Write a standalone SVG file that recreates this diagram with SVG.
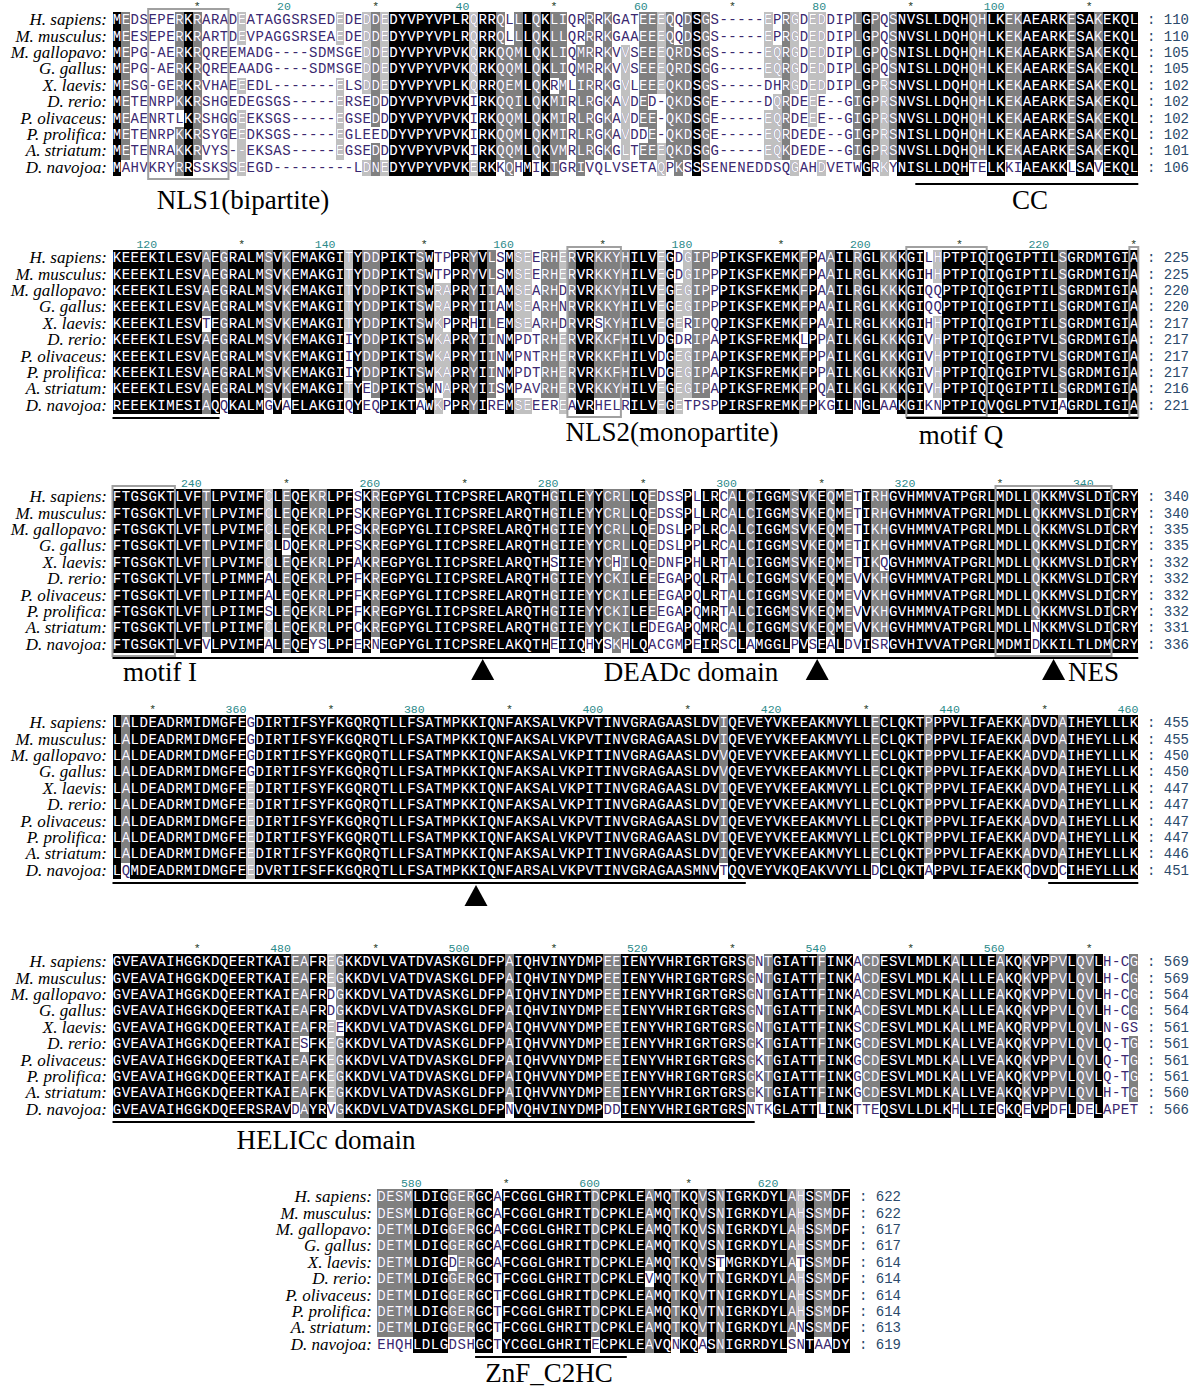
<svg xmlns="http://www.w3.org/2000/svg" xmlns:xlink="http://www.w3.org/1999/xlink" width="1196" height="1391" viewBox="0 0 1196 1391">
<style>
.sq{font-family:"Liberation Mono","Courier New",monospace;font-size:14px;letter-spacing:0.52px}
.nm{font-family:"Liberation Serif","Times New Roman",serif;font-style:italic;font-size:17px;text-anchor:end;fill:#000}
.rn{font-family:"Liberation Mono",monospace;font-size:11.5px;fill:#2b8a8a;text-anchor:end}
.st{font-family:"Liberation Mono",monospace;font-size:11.5px;fill:#243a24;text-anchor:middle}
.cnt{font-family:"Liberation Mono",monospace;font-size:14px;fill:#2b4a6b}
.lb{font-family:"Liberation Serif","Times New Roman",serif;font-size:27px;fill:#000}
.k{fill:#000}.dg{fill:#808080}.lg{fill:#c0c0c0}
.box{fill:none;stroke:#a0a0a0;stroke-width:2}
.ul{stroke:#000;stroke-width:2}
</style>
<defs>
<clipPath id="c1"><use href="#k1" transform="translate(112.5,0) scale(8.92,16.4)"/><use href="#d1" transform="translate(112.5,0) scale(8.92,16.4)"/><use href="#l1" transform="translate(112.5,0) scale(8.92,16.4)"/></clipPath>
<clipPath id="c2"><use href="#k2" transform="translate(112.5,0) scale(8.92,16.4)"/><use href="#d2" transform="translate(112.5,0) scale(8.92,16.4)"/><use href="#l2" transform="translate(112.5,0) scale(8.92,16.4)"/></clipPath>
<clipPath id="c3"><use href="#k3" transform="translate(112.5,0) scale(8.92,16.4)"/><use href="#d3" transform="translate(112.5,0) scale(8.92,16.4)"/><use href="#l3" transform="translate(112.5,0) scale(8.92,16.4)"/></clipPath>
<clipPath id="c4"><use href="#k4" transform="translate(112.5,0) scale(8.92,16.4)"/><use href="#d4" transform="translate(112.5,0) scale(8.92,16.4)"/><use href="#l4" transform="translate(112.5,0) scale(8.92,16.4)"/></clipPath>
<clipPath id="c5"><use href="#k5" transform="translate(112.5,0) scale(8.92,16.4)"/><use href="#d5" transform="translate(112.5,0) scale(8.92,16.4)"/><use href="#l5" transform="translate(112.5,0) scale(8.92,16.4)"/></clipPath>
<clipPath id="c6"><use href="#k6" transform="translate(377,0) scale(8.92,16.4)"/><use href="#d6" transform="translate(377,0) scale(8.92,16.4)"/><use href="#l6" transform="translate(377,0) scale(8.92,16.4)"/></clipPath>
</defs>
<rect width="1196" height="1391" fill="#fff"/>

<g id="block1" transform="translate(0,12)">
<g transform="translate(112.5,0) scale(8.92,16.4)" shape-rendering="crispEdges">
<path id="k1" class="k" d="M0 0h1v10h-1zM8 0h1v10h-1zM31 0h9v10h-9zM41 0h2v10h-2zM46 0h1v10h-1zM48 0h1v10h-1zM65 0h1v10h-1zM84 0h1v10h-1zM88 0h8v10h-8zM98 0h2v10h-2zM102 0h5v10h-5zM108 0h2v10h-2zM111 0h4v10h-4z"/>
<path id="d1" class="dg" d="M1 0h1v9h-1zM7 0h1v6h-1zM7 7h1v3h-1zM9 0h1v9h-1zM29 0h1v7h-1zM29 8h1v2h-1zM43 0h1v9h-1zM44 2h1v8h-1zM45 0h1v9h-1zM47 0h1v9h-1zM49 0h1v4h-1zM49 5h1v5h-1zM50 0h1v9h-1zM52 2h1v8h-1zM53 0h1v9h-1zM55 0h1v9h-1zM59 0h1v7h-1zM59 8h1v1h-1zM60 0h1v5h-1zM60 6h1v3h-1zM62 0h1v9h-1zM63 2h1v8h-1zM64 0h1v9h-1zM66 0h1v9h-1zM75 0h1v9h-1zM83 0h1v9h-1zM85 0h1v9h-1zM87 0h1v9h-1zM96 0h2v9h-2zM100 0h2v9h-2zM107 0h1v9h-1zM110 0h1v9h-1z"/>
<path id="l1" class="lg" d="M14 0h1v2h-1zM14 4h1v1h-1zM14 6h1v4h-1zM25 0h1v2h-1zM25 4h1v5h-1zM28 0h1v5h-1zM28 9h1v1h-1zM30 0h1v5h-1zM30 9h1v1h-1zM40 0h1v5h-1zM40 9h1v1h-1zM57 2h1v7h-1zM61 0h1v5h-1zM61 8h1v2h-1zM73 0h1v4h-1zM73 6h1v3h-1zM74 2h1v2h-1zM74 5h1v4h-1zM76 0h1v5h-1zM76 9h1v1h-1zM78 0h1v7h-1zM79 0h1v5h-1zM79 9h1v1h-1zM86 4h1v6h-1z"/>
</g>
<g fill="#3a2870"><g id="t1" class="sq">
<text x="112.76" y="12.2">MEDSEPERKRARADEATAGGSRSEDEDEDDEDYVPYVPLRQRRQLLLQKLIQRRRKGATEEEQQDSGS-----EPRGDEDDIPLGPQSNVSLLDQHQHLKEKAEARKESAKEKQL</text>
<text x="112.76" y="28.6">MEESEPERKRARTDEVPAGGSRSEAEDEDDEDYVPYVPLRQRRQLLLQKLLQRRRKGAAEEEQQDSGS-----EPRGDEDDIPLGPQSNVSLLDQHQHLKEKAEARKESAKEKQL</text>
<text x="112.76" y="45">MEPG-AERKRQREEMADG----SDMSGEDDEDYVPYVPVKQRKQQMLQKLIQMRRKVVSEEEQRDSGS-----EQRGDEDDIPLGPQSNISLLDQHQHLKEKAEARKESAKEKQL</text>
<text x="112.76" y="61.4">MEPG-AERKRQREEAADG----SDMSGEDDEDYVPYVPVKQRKQQMLQKLIQMRRKVVSEEEQRDSGG-----EQRGDEDDIPLGPQSNISLLDQHQHLKEKAEARKESAKEKQL</text>
<text x="112.76" y="77.8">MESG-GERKRVHAEEEDL-------ELSDDEDYVPYVPLKQRRQEMLQKRMLIRRKGVLEEEQKDSGS-----DHRGDEDDIPLGPRSNVSLLDQHQHLKEKAEARKESAKEKQL</text>
<text x="112.76" y="94.2">METENRPKKRSHGEDEGSGS-----ERSEDDDYVPYVPVKIRKQQILQKMIRLRGKAVDED-QKDSGE-----DQRDEEE--GIGPRSNVSLLDQHQHLKEKAEARKESAKEKQL</text>
<text x="112.76" y="110.6">MEAENRTLKRSHGGEEKSGS-----EGSEDDDYVPYVPVKIRKQQMLQKMIRLRGKAVDEE-QKDSGE-----EQRDEEE--GIGPRSNVSLLDQHQHLKEKAEARKESAKEKQL</text>
<text x="112.76" y="127">METENRPKKRSYGEEDKSGS-----EGLEEDDYVPYVPVKIRKQQMLQKMIRLRGKAVDDE-QKDSGE-----EQRDEDE--GIGPRSNISLLDQHQHLKEKAEARKESAKEKQL</text>
<text x="112.76" y="143.4">METENRAKKRVYS--EKSAS-----EGSEDDDYVPYVPVKIRKQQMLQKVMRLRGKGLTEEEQKDSGG-----EQKDEDE--GIGPRSNVSLLDQHQHLKEKAEARKESAKEKQL</text>
<text x="112.76" y="159.8">MAHVKRYRRSSKSSEEGD---------LDNEDYVPYVPVKERKKQHMIKIGRIVQLVSETAQPKSSSENENEDDSQGAHDVETWGRKYNISLLDQHTELKKIAEAKKLSAVEKQL</text>
</g></g>
<use href="#t1" fill="#fff" clip-path="url(#c1)"/>
<g class="nm">
<text x="107" y="13.2">H. sapiens:</text><text x="107" y="29.6">M. musculus:</text><text x="107" y="46">M. gallopavo:</text><text x="107" y="62.4">G. gallus:</text><text x="107" y="78.8">X. laevis:</text><text x="107" y="95.2">D. rerio:</text><text x="107" y="111.6">P. olivaceus:</text><text x="107" y="128">P. prolifica:</text><text x="107" y="144.4">A. striatum:</text><text x="107" y="160.8">D. navojoa:</text>
</g>
<g class="cnt">
<text x="1147" y="12.2">: 110</text><text x="1147" y="28.6">: 110</text><text x="1147" y="45">: 105</text><text x="1147" y="61.4">: 105</text><text x="1147" y="77.8">: 102</text><text x="1147" y="94.2">: 102</text><text x="1147" y="110.6">: 102</text><text x="1147" y="127">: 102</text><text x="1147" y="143.4">: 101</text><text x="1147" y="159.8">: 106</text>
</g>
<g>
<text class="st" x="197.2" y="-2">*</text><text class="rn" x="290.9" y="-2">20</text><text class="st" x="375.6" y="-2">*</text><text class="rn" x="469.3" y="-2">40</text><text class="st" x="554" y="-2">*</text><text class="rn" x="647.7" y="-2">60</text><text class="st" x="732.4" y="-2">*</text><text class="rn" x="826.1" y="-2">80</text><text class="st" x="910.8" y="-2">*</text><text class="rn" x="1004.5" y="-2">100</text><text class="st" x="1089.2" y="-2">*</text>
</g>
</g>

<g id="block2" transform="translate(0,250)">
<g transform="translate(112.5,0) scale(8.92,16.4)" shape-rendering="crispEdges">
<path id="k2" class="k" d="M0 0h10v10h-10zM11 0h1v10h-1zM13 0h4v10h-4zM18 0h1v10h-1zM20 0h6v10h-6zM27 0h1v10h-1zM30 0h4v10h-4zM35 0h1v10h-1zM38 0h2v10h-2zM41 0h1v10h-1zM44 0h1v10h-1zM52 0h2v10h-2zM58 0h3v10h-3zM62 0h1v10h-1zM68 0h9v10h-9zM78 0h1v10h-1zM81 0h2v10h-2zM84 0h2v10h-2zM88 0h3v10h-3zM93 0h13v10h-13zM107 0h8v10h-8z"/>
<path id="d2" class="dg" d="M10 0h1v4h-1zM10 5h1v5h-1zM12 0h1v9h-1zM17 0h1v9h-1zM19 0h1v9h-1zM28 0h1v8h-1zM29 0h1v9h-1zM34 0h1v9h-1zM40 0h1v4h-1zM40 5h1v5h-1zM42 0h1v9h-1zM48 0h2v9h-2zM51 0h1v9h-1zM54 0h1v4h-1zM54 5h1v4h-1zM55 0h3v9h-3zM65 0h2v9h-2zM77 0h1v5h-1zM77 6h1v4h-1zM80 0h1v9h-1zM83 0h1v9h-1zM86 0h2v9h-2zM106 0h1v9h-1z"/>
<path id="l2" class="lg" d="M26 0h1v5h-1zM26 8h1v1h-1zM36 2h1v6h-1zM36 9h1v1h-1zM37 2h1v2h-1zM37 5h1v4h-1zM45 0h2v5h-2zM45 9h2v1h-2zM50 0h1v2h-1zM50 5h1v5h-1zM61 0h1v5h-1zM61 8h1v2h-1zM63 2h1v3h-1zM63 6h1v4h-1zM64 0h1v4h-1zM64 6h1v3h-1zM92 0h1v2h-1zM92 4h1v5h-1z"/>
</g>
<g fill="#3a2870"><g id="t2" class="sq">
<text x="112.76" y="12.2">KEEEKILESVAEGRALMSVKEMAKGITYDDPIKTSWTPPRYVLSMSEERHERVRKKYHILVEGDGIPPPIKSFKEMKFPAAILRGLKKKGILHPTPIQIQGIPTILSGRDMIGIA</text>
<text x="112.76" y="28.6">KEEEKILESVAEGRALMSVKEMAKGITYDDPIKTSWTPPRYVLSMSEERHERVRKKYHILVEGDGIPPPIKSFKEMKFPAAILRGLKKKGIHHPTPIQIQGIPTILSGRDMIGIA</text>
<text x="112.76" y="45">KEEEKILESVAEGRALMSVKEMAKGITYDDPIKTSWRAPRYIIAMSEARHDRVRKKYHILVEGEGIPPPIKSFKEMKFPAAILRGLKKKGIQQPTPIQIQGIPTILSGRDMIGIA</text>
<text x="112.76" y="61.4">KEEEKILESVAEGRALMSVKEMAKGITYDDPIKTSWRAPRYIIAMSEARHNRVRKKYHILVEGEGIPPPIKSFKEMKFPAAILRGLKKKGIQQPTPIQIQGIPTILSGRDMIGIA</text>
<text x="112.76" y="77.8">KEEEKILESVTEGRALMSVKEMAKGITYDDPIKTSWKPPRHILEMSEARHDRVRSKYHILVEGERIPQPIKSFKEMKFPAAILRGLKKKGIHHPTPIQIQGIPTILSGRDMIGIA</text>
<text x="112.76" y="94.2">KEEEKILESVAEGRALMSVKEMAKGIIYDDPIKTSWKAPRYIINMPDTRHERVRKKFHILVDGDRIPAPIKSFREMKLPPAILKGLKKKGIVHPTPIQIQGIPTVLSGRDMIGIA</text>
<text x="112.76" y="110.6">KEEEKILESVAEGRALMSVKEMAKGIIYDDPIKTSWKAPRYIINMPNTRHERVRKKFHILVDGEGIPAPIKSFREMKFPPAILKGLKKKGIVHPTPIQIQGIPTVLSGRDMIGIA</text>
<text x="112.76" y="127">KEEEKILESVAEGRALMSVKEMAKGIIYDDPIKTSWKAPRYIINMPDTRHERVRKKFHILVDGEGIPAPIKSFREMKFPPAILKGLKKKGIVHPTPIQIQGIPTVLSGRDMIGIA</text>
<text x="112.76" y="143.4">KEEEKILESVAEGRALMSVKEMAKGITYEDPIKTSWNAPRYIISMPAVRHERVRKKYHILVEGEGIPAPIKSFREMKFPQAILKGLKKKGIVHPTPIQIQGIPTILSGRDMIGIA</text>
<text x="112.76" y="159.8">REEEKIMESIAQQKALMGVAELAKGIQYEQPIKTAWKPPRYIREMSEEEREAVRHELRILVEGETPSPPIRSFREMKFPKGILNGLAAKGIKNPTPIQVQGLPTVIAGRDLIGIA</text>
</g></g>
<use href="#t2" fill="#fff" clip-path="url(#c2)"/>
<g class="nm">
<text x="107" y="13.2">H. sapiens:</text><text x="107" y="29.6">M. musculus:</text><text x="107" y="46">M. gallopavo:</text><text x="107" y="62.4">G. gallus:</text><text x="107" y="78.8">X. laevis:</text><text x="107" y="95.2">D. rerio:</text><text x="107" y="111.6">P. olivaceus:</text><text x="107" y="128">P. prolifica:</text><text x="107" y="144.4">A. striatum:</text><text x="107" y="160.8">D. navojoa:</text>
</g>
<g class="cnt">
<text x="1147" y="12.2">: 225</text><text x="1147" y="28.6">: 225</text><text x="1147" y="45">: 220</text><text x="1147" y="61.4">: 220</text><text x="1147" y="77.8">: 217</text><text x="1147" y="94.2">: 217</text><text x="1147" y="110.6">: 217</text><text x="1147" y="127">: 217</text><text x="1147" y="143.4">: 216</text><text x="1147" y="159.8">: 221</text>
</g>
<g>
<text class="rn" x="157.1" y="-2">120</text><text class="st" x="241.8" y="-2">*</text><text class="rn" x="335.5" y="-2">140</text><text class="st" x="424.2" y="-2">*</text><text class="rn" x="513.9" y="-2">160</text><text class="st" x="602.6" y="-2">*</text><text class="rn" x="692.3" y="-2">180</text><text class="st" x="781" y="-2">*</text><text class="rn" x="870.7" y="-2">200</text><text class="st" x="959.4" y="-2">*</text><text class="rn" x="1049.1" y="-2">220</text><text class="st" x="1133.8" y="-2">*</text>
</g>
</g>

<g id="block3" transform="translate(0,489)">
<g transform="translate(112.5,0) scale(8.92,16.4)" shape-rendering="crispEdges">
<path id="k3" class="k" d="M0 0h10v10h-10zM11 0h6v10h-6zM18 0h1v10h-1zM20 0h2v10h-2zM24 0h3v10h-3zM28 0h1v10h-1zM30 0h19v10h-19zM50 0h3v10h-3zM54 0h1v10h-1zM58 0h2v10h-2zM64 0h1v10h-1zM66 0h2v10h-2zM70 0h1v10h-1zM72 0h4v10h-4zM77 0h1v10h-1zM79 0h1v10h-1zM81 0h1v10h-1zM84 0h1v10h-1zM87 0h16v10h-16zM104 0h11v10h-11z"/>
<path id="d3" class="dg" d="M10 0h1v9h-1zM19 0h1v3h-1zM19 4h1v6h-1zM22 0h2v9h-2zM29 0h1v9h-1zM49 0h1v4h-1zM49 5h1v4h-1zM53 0h1v9h-1zM55 0h1v9h-1zM56 0h1v4h-1zM56 5h1v5h-1zM57 0h1v9h-1zM60 0h1v8h-1zM69 0h1v9h-1zM71 0h1v9h-1zM76 0h1v9h-1zM78 0h1v9h-1zM80 0h1v9h-1zM82 0h1v9h-1zM85 0h1v9h-1zM86 0h1v4h-1zM86 5h1v4h-1zM103 0h1v8h-1z"/>
<path id="l3" class="lg" d="M17 0h1v5h-1zM17 8h1v1h-1z"/>
</g>
<g fill="#3a2870"><g id="t3" class="sq">
<text x="112.76" y="12.2">FTGSGKTLVFTLPVIMFCLEQEKRLPFSKREGPYGLIICPSRELARQTHGILEYYCRLLQEDSSPLLRCALCIGGMSVKEQMETIRHGVHMMVATPGRLMDLLQKKMVSLDICRY</text>
<text x="112.76" y="28.6">FTGSGKTLVFTLPVIMFCLEQEKRLPFSKREGPYGLIICPSRELARQTHGILEYYCRLLQEDSSPLLRCALCIGGMSVKEQMETIRHGVHMMVATPGRLMDLLQKKMVSLDICRY</text>
<text x="112.76" y="45">FTGSGKTLVFTLPVIMFCLEQEKRLPFSKREGPYGLIICPSRELARQTHGIIEYYCRLLQEDSLPPLRCALCIGGMSVKEQMETIKHGVHMMVATPGRLMDLLQKKMVSLDICRY</text>
<text x="112.76" y="61.4">FTGSGKTLVFTLPVIMFCLDQEKRLPFSKREGPYGLIICPSRELARQTHGIIEYYCRLLQEDSLPPLRCALCIGGMSVKEQMETIKHGVHMMVATPGRLMDLLQKKMVSLDICRY</text>
<text x="112.76" y="77.8">FTGSGKTLVFTLPVIMFCLEQEKRLPFAKREGPYGLIICPSRELARQTHSIIEYYCHILQEDNFPHLRTALCIGGMSVKEQMETIKQGVHMMVATPGRLMDLLQKKMVSLDICRY</text>
<text x="112.76" y="94.2">FTGSGKTLVFTLPIMMFALEQEKRLPFFKREGPYGLIICPSRELARQTHGIIEYYCKILEEEGAPQLRTALCIGGMSVKEQMEVVKHGVHMMVATPGRLMDLLQKKMVSLDICRY</text>
<text x="112.76" y="110.6">FTGSGKTLVFTLPIIMFALEQEKRLPFFKREGPYGLIICPSRELARQTHGIIEYYCKILEEEGAPQLRTALCIGGMSVKEQMEVVKHGVHMMVATPGRLMDLLQKKMVSLDICRY</text>
<text x="112.76" y="127">FTGSGKTLVFTLPIIMFSLEQEKRLPFFKREGPYGLIICPSRELARQTHGIIEYYCKILEEEGAPQMRTALCIGGMSVKEQMEVVKHGVHMMVATPGRLMDLLQKKMVSLDICRY</text>
<text x="112.76" y="143.4">FTGSGKTLVFTLPIIMFCLEQEKRLPFCKREGPYGLIICPSRELARQTHGIIEYYCKILEDEGAPQMRCALCIGGMSVKEQMEVVKHGVHMMVATPGRLMDLLNKKMVSLDICRY</text>
<text x="112.76" y="159.8">FTGSGKTLVFVLPVIMFALEQEYSLPFERNEGPYGLIICPSRELAKQTHEIIQHYSKHLQACGMPEIRSCLAMGGLPVSEALDVISRGVHIVVATPGRLMDMIDKKILTLDMCRY</text>
</g></g>
<use href="#t3" fill="#fff" clip-path="url(#c3)"/>
<g class="nm">
<text x="107" y="13.2">H. sapiens:</text><text x="107" y="29.6">M. musculus:</text><text x="107" y="46">M. gallopavo:</text><text x="107" y="62.4">G. gallus:</text><text x="107" y="78.8">X. laevis:</text><text x="107" y="95.2">D. rerio:</text><text x="107" y="111.6">P. olivaceus:</text><text x="107" y="128">P. prolifica:</text><text x="107" y="144.4">A. striatum:</text><text x="107" y="160.8">D. navojoa:</text>
</g>
<g class="cnt">
<text x="1147" y="12.2">: 340</text><text x="1147" y="28.6">: 340</text><text x="1147" y="45">: 335</text><text x="1147" y="61.4">: 335</text><text x="1147" y="77.8">: 332</text><text x="1147" y="94.2">: 332</text><text x="1147" y="110.6">: 332</text><text x="1147" y="127">: 332</text><text x="1147" y="143.4">: 331</text><text x="1147" y="159.8">: 336</text>
</g>
<g>
<text class="rn" x="201.7" y="-2">240</text><text class="st" x="286.4" y="-2">*</text><text class="rn" x="380.1" y="-2">260</text><text class="st" x="464.8" y="-2">*</text><text class="rn" x="558.5" y="-2">280</text><text class="st" x="643.2" y="-2">*</text><text class="rn" x="736.9" y="-2">300</text><text class="st" x="821.6" y="-2">*</text><text class="rn" x="915.3" y="-2">320</text><text class="st" x="1000" y="-2">*</text><text class="rn" x="1093.7" y="-2">340</text>
</g>
</g>

<g id="block4" transform="translate(0,715)">
<g transform="translate(112.5,0) scale(8.92,16.4)" shape-rendering="crispEdges">
<path id="k4" class="k" d="M0 0h1v10h-1zM2 0h13v10h-13zM16 0h52v10h-52zM69 0h16v10h-16zM86 0h5v10h-5zM92 0h10v10h-10zM103 0h3v10h-3zM107 0h8v10h-8z"/>
<path id="d4" class="dg" d="M1 0h1v9h-1zM68 0h1v9h-1zM85 0h1v9h-1zM91 0h1v9h-1zM102 0h1v9h-1zM106 0h1v9h-1z"/>
<path id="l4" class="lg" d="M15 4h1v6h-1z"/>
</g>
<g fill="#3a2870"><g id="t4" class="sq">
<text x="112.76" y="12.2">LALDEADRMIDMGFEGDIRTIFSYFKGQRQTLLFSATMPKKIQNFAKSALVKPVTINVGRAGAASLDVIQEVEYVKEEAKMVYLLECLQKTPPPVLIFAEKKADVDAIHEYLLLK</text>
<text x="112.76" y="28.6">LALDEADRMIDMGFEGDIRTIFSYFKGQRQTLLFSATMPKKIQNFAKSALVKPVTINVGRAGAASLDVIQEVEYVKEEAKMVYLLECLQKTPPPVLIFAEKKADVDAIHEYLLLK</text>
<text x="112.76" y="45">LALDEADRMIDMGFEGDIRTIFSYFKGQRQTLLFSATMPKKIQNFAKSALVKPITINVGRAGAASLDVVQEVEYVKEEAKMVYLLECLQKTPPPVLIFAEKKADVDAIHEYLLLK</text>
<text x="112.76" y="61.4">LALDEADRMIDMGFEGDIRTIFSYFKGQRQTLLFSATMPKKIQNFAKSALVKPITINVGRAGAASLDVVQEVEYVKEEAKMVYLLECLQKTPPPVLIFAEKKADVDAIHEYLLLK</text>
<text x="112.76" y="77.8">LALDEADRMIDMGFEEDIRTIFSYFKGQRQTLLFSATMPKKIQNFAKSALVKPITINVGRAGAASLDVIQEVEYVKEEAKMVYLLECLQKTPPPVLIFAEKKADVDAIHEYLLLK</text>
<text x="112.76" y="94.2">LALDEADRMIDMGFEEDIRTIFSYFKGQRQTLLFSATMPKKIQNFAKSALVKPITINVGRAGAASLDVIQEVEYVKEEAKMVYLLECLQKTPPPVLIFAEKKADVDAIHEYLLLK</text>
<text x="112.76" y="110.6">LALDEADRMIDMGFEEDIRTIFSYFKGQRQTLLFSATMPKKIQNFAKSALVKPVTINVGRAGAASLDVIQEVEYVKEEAKMVYLLECLQKTPPPVLIFAEKKADVDAIHEYLLLK</text>
<text x="112.76" y="127">LALDEADRMIDMGFEEDIRTIFSYFKGQRQTLLFSATMPKKIQNFAKSALVKPVTINVGRAGAASLDVIQEVEYVKEEAKMVYLLECLQKTPPPVLIFAEKKADVDAIHEYLLLK</text>
<text x="112.76" y="143.4">LALDEADRMIDMGFEEDIRTIFSYFKGQRQTLLFSATMPKKIQNFAKSALVKPITINVGRAGAASLDVIQEVEYVKEEAKMVYLLECLQKTPPPVLIFAEKKADVDAIHEYLLLK</text>
<text x="112.76" y="159.8">LQMDEADRMIDMGFEEDVRTIFSFFKGQRQTLLFSATMPKKIQNFARSALVKPVTINVGRAGAASMNVTQQVEYVKQEAKVVYLLDCLQKTAPPVLIFAEKKQDVDCIHEYLLLK</text>
</g></g>
<use href="#t4" fill="#fff" clip-path="url(#c4)"/>
<g class="nm">
<text x="107" y="13.2">H. sapiens:</text><text x="107" y="29.6">M. musculus:</text><text x="107" y="46">M. gallopavo:</text><text x="107" y="62.4">G. gallus:</text><text x="107" y="78.8">X. laevis:</text><text x="107" y="95.2">D. rerio:</text><text x="107" y="111.6">P. olivaceus:</text><text x="107" y="128">P. prolifica:</text><text x="107" y="144.4">A. striatum:</text><text x="107" y="160.8">D. navojoa:</text>
</g>
<g class="cnt">
<text x="1147" y="12.2">: 455</text><text x="1147" y="28.6">: 455</text><text x="1147" y="45">: 450</text><text x="1147" y="61.4">: 450</text><text x="1147" y="77.8">: 447</text><text x="1147" y="94.2">: 447</text><text x="1147" y="110.6">: 447</text><text x="1147" y="127">: 447</text><text x="1147" y="143.4">: 446</text><text x="1147" y="159.8">: 451</text>
</g>
<g>
<text class="st" x="152.6" y="-2">*</text><text class="rn" x="246.3" y="-2">360</text><text class="st" x="331" y="-2">*</text><text class="rn" x="424.7" y="-2">380</text><text class="st" x="509.4" y="-2">*</text><text class="rn" x="603.1" y="-2">400</text><text class="st" x="687.8" y="-2">*</text><text class="rn" x="781.5" y="-2">420</text><text class="st" x="866.2" y="-2">*</text><text class="rn" x="959.9" y="-2">440</text><text class="st" x="1044.6" y="-2">*</text><text class="rn" x="1138.3" y="-2">460</text>
</g>
</g>

<g id="block5" transform="translate(0,954)">
<g transform="translate(112.5,0) scale(8.92,16.4)" shape-rendering="crispEdges">
<path id="k5" class="k" d="M0 0h20v10h-20zM22 0h2v10h-2zM26 0h18v10h-18zM45 0h10v10h-10zM57 0h14v10h-14zM74 0h5v10h-5zM80 0h3v10h-3zM86 0h8v10h-8zM95 0h4v10h-4zM100 0h2v10h-2zM103 0h2v10h-2zM107 0h1v10h-1zM110 0h1v10h-1z"/>
<path id="d5" class="dg" d="M20 0h1v9h-1zM21 0h1v5h-1zM21 6h1v4h-1zM25 0h1v4h-1zM25 5h1v5h-1zM44 0h1v9h-1zM55 0h2v9h-2zM71 0h1v9h-1zM73 0h1v9h-1zM79 0h1v9h-1zM84 0h2v9h-2zM94 0h1v9h-1zM99 0h1v9h-1zM102 0h1v9h-1zM105 0h2v9h-2zM108 0h2v9h-2zM114 0h1v4h-1zM114 5h1v4h-1z"/>
<path id="l5" class="lg" d="M24 0h1v2h-1zM24 4h1v5h-1z"/>
</g>
<g fill="#3a2870"><g id="t5" class="sq">
<text x="112.76" y="12.2">GVEAVAIHGGKDQEERTKAIEAFREGKKDVLVATDVASKGLDFPAIQHVINYDMPEEIENYVHRIGRTGRSGNTGIATTFINKACDESVLMDLKALLLEAKQKVPPVLQVLH-CG</text>
<text x="112.76" y="28.6">GVEAVAIHGGKDQEERTKAIEAFREGKKDVLVATDVASKGLDFPAIQHVINYDMPEEIENYVHRIGRTGRSGNTGIATTFINKACDESVLMDLKALLLEAKQKVPPVLQVLH-CG</text>
<text x="112.76" y="45">GVEAVAIHGGKDQEERTKAIEAFRDGKKDVLVATDVASKGLDFPAIQHVINYDMPEEIENYVHRIGRTGRSGNTGIATTFINKACDESVLMDLKALLLEAKQKVPPVLQVLH-CG</text>
<text x="112.76" y="61.4">GVEAVAIHGGKDQEERTKAIEAFRDGKKDVLVATDVASKGLDFPAIQHVINYDMPEEIENYVHRIGRTGRSGNTGIATTFINKACDESVLMDLKALLLEAKQKVPPVLQVLH-CG</text>
<text x="112.76" y="77.8">GVEAVAIHGGKDQEERTKAIEAFREEKKDVLVATDVASKGLDFPAIQHVVNYDMPEEIENYVHRIGRTGRSGNTGIATTFINKSCDESVLMDLKALLMEAKQRVPPVLQVLN-GS</text>
<text x="112.76" y="94.2">GVEAVAIHGGKDQEERTKAIESFKEGKKDVLVATDVASKGLDFPAIQHVVNYDMPEEIENYVHRIGRTGRSGKTGIATTFINKGCDESVLMDLKALLVEAKQKVPPVLQVLQ-TG</text>
<text x="112.76" y="110.6">GVEAVAIHGGKDQEERTKAIEAFKEGKKDVLVATDVASKGLDFPAIQHVVNYDMPEEIENYVHRIGRTGRSGKTGIATTFINKGCDESVLMDLKALLVEAKQKVPPVLQVLQ-TG</text>
<text x="112.76" y="127">GVEAVAIHGGKDQEERTKAIEAFKEGKKDVLVATDVASKGLDFPAIQHVVNYDMPEEIENYVHRIGRTGRSGKTGIATTFINKGCDESVLMDLKALLVEAKQKVPPVLQVLQ-TG</text>
<text x="112.76" y="143.4">GVEAVAIHGGKDQEERTKAIEAFKEGKKDVLVATDVASKGLDFPAIQHVVNYDMPEEIENYVHRIGRTGRSGKTGIATTFINKGCDESVLMDLKALLVEAKQKVPPVLQVLH-TG</text>
<text x="112.76" y="159.8">GVEAVAIHGGKDQEERSRAVDAYRVGKKDVLVATDVASKGLDFPNVQHVINYDMPDDIENYVHRIGRTGRSNTKGLATTLINKTTEQSVLLDLKHLLIEGKQEVPDFLDELAPET</text>
</g></g>
<use href="#t5" fill="#fff" clip-path="url(#c5)"/>
<g class="nm">
<text x="107" y="13.2">H. sapiens:</text><text x="107" y="29.6">M. musculus:</text><text x="107" y="46">M. gallopavo:</text><text x="107" y="62.4">G. gallus:</text><text x="107" y="78.8">X. laevis:</text><text x="107" y="95.2">D. rerio:</text><text x="107" y="111.6">P. olivaceus:</text><text x="107" y="128">P. prolifica:</text><text x="107" y="144.4">A. striatum:</text><text x="107" y="160.8">D. navojoa:</text>
</g>
<g class="cnt">
<text x="1147" y="12.2">: 569</text><text x="1147" y="28.6">: 569</text><text x="1147" y="45">: 564</text><text x="1147" y="61.4">: 564</text><text x="1147" y="77.8">: 561</text><text x="1147" y="94.2">: 561</text><text x="1147" y="110.6">: 561</text><text x="1147" y="127">: 561</text><text x="1147" y="143.4">: 560</text><text x="1147" y="159.8">: 566</text>
</g>
<g>
<text class="st" x="197.2" y="-2">*</text><text class="rn" x="290.9" y="-2">480</text><text class="st" x="375.6" y="-2">*</text><text class="rn" x="469.3" y="-2">500</text><text class="st" x="554" y="-2">*</text><text class="rn" x="647.7" y="-2">520</text><text class="st" x="732.4" y="-2">*</text><text class="rn" x="826.1" y="-2">540</text><text class="st" x="910.8" y="-2">*</text><text class="rn" x="1004.5" y="-2">560</text><text class="st" x="1089.2" y="-2">*</text>
</g>
</g>

<g id="block6" transform="translate(0,1189)">
<g transform="translate(377,0) scale(8.92,16.4)" shape-rendering="crispEdges">
<path id="k6" class="k" d="M4 0h4v10h-4zM11 0h2v10h-2zM14 0h10v10h-10zM25 0h5v10h-5zM31 0h2v10h-2zM34 0h2v10h-2zM37 0h1v10h-1zM39 0h7v10h-7zM48 0h1v10h-1zM51 0h2v10h-2z"/>
<path id="d6" class="dg" d="M0 0h4v9h-4zM8 0h1v4h-1zM8 5h1v4h-1zM9 0h2v9h-2zM24 0h1v9h-1zM30 0h1v5h-1zM30 6h1v4h-1zM33 0h1v9h-1zM36 0h1v9h-1zM38 0h1v4h-1zM38 5h1v5h-1zM46 0h1v9h-1zM49 0h2v9h-2z"/>
<path id="l6" class="lg" d="M47 0h1v4h-1zM47 5h1v3h-1z"/>
</g>
<g fill="#3a2870"><g id="t6" class="sq">
<text x="377.26" y="12.2">DESMLDIGGERGCAFCGGLGHRITDCPKLEAMQTKQVSNIGRKDYLAHSSMDF</text>
<text x="377.26" y="28.6">DESMLDIGGERGCAFCGGLGHRITDCPKLEAMQTKQVSNIGRKDYLAHSSMDF</text>
<text x="377.26" y="45">DETMLDIGGERGCAFCGGLGHRITDCPKLEAMQTKQVSNIGRKDYLAHSSMDF</text>
<text x="377.26" y="61.4">DETMLDIGGERGCAFCGGLGHRITDCPKLEAMQTKQVSNIGRKDYLAHSSMDF</text>
<text x="377.26" y="77.8">DETMLDIGDERGCAFCGGLGHRITDCPKLEAMQTKQVSTMGRKDYLATSSMDF</text>
<text x="377.26" y="94.2">DETMLDIGGERGCTFCGGLGHRITDCPKLEVMQTKQVTNIGRKDYLAHSSMDF</text>
<text x="377.26" y="110.6">DETMLDIGGERGCTFCGGLGHRITDCPKLEAMQTKQVTNIGRKDYLAHSSMDF</text>
<text x="377.26" y="127">DETMLDIGGERGCTFCGGLGHRITDCPKLEAMQTKQVTNIGRKDYLAHSSMDF</text>
<text x="377.26" y="143.4">DETMLDIGGERGCTFCGGLGHRITDCPKLEAMQTKQVTNIGRKDYLANSSMDF</text>
<text x="377.26" y="159.8">EHQHLDLGDSHGCTYCGGLGHRITECPKLEAVQNKQASNIGRRDYLSNTAADY</text>
</g></g>
<use href="#t6" fill="#fff" clip-path="url(#c6)"/>
<g class="nm">
<text x="372" y="13.2">H. sapiens:</text><text x="372" y="29.6">M. musculus:</text><text x="372" y="46">M. gallopavo:</text><text x="372" y="62.4">G. gallus:</text><text x="372" y="78.8">X. laevis:</text><text x="372" y="95.2">D. rerio:</text><text x="372" y="111.6">P. olivaceus:</text><text x="372" y="128">P. prolifica:</text><text x="372" y="144.4">A. striatum:</text><text x="372" y="160.8">D. navojoa:</text>
</g>
<g class="cnt">
<text x="859" y="12.2">: 622</text><text x="859" y="28.6">: 622</text><text x="859" y="45">: 617</text><text x="859" y="61.4">: 617</text><text x="859" y="77.8">: 614</text><text x="859" y="94.2">: 614</text><text x="859" y="110.6">: 614</text><text x="859" y="127">: 614</text><text x="859" y="143.4">: 613</text><text x="859" y="159.8">: 619</text>
</g>
<g>
<text class="rn" x="421.6" y="-2">580</text><text class="st" x="506.3" y="-2">*</text><text class="rn" x="600" y="-2">600</text><text class="st" x="688.7" y="-2">*</text><text class="rn" x="778.4" y="-2">620</text>
</g>
</g>

<g id="annotations">
<g class="box">
<rect x="148.2" y="9" width="80.3" height="170"/>
<rect x="567.4" y="247" width="53.5" height="170"/>
<rect x="906.3" y="247" width="80.4" height="170"/>
<rect x="1129.4" y="247" width="8.9" height="170"/>
<rect x="112.5" y="486" width="62.4" height="170"/>
<rect x="995.5" y="486" width="116" height="170"/>
</g>
<g class="ul">
<line x1="915.3" y1="184" x2="1138.3" y2="184"/>
<line x1="112.5" y1="418" x2="219.5" y2="418"/>
<line x1="906.3" y1="418" x2="1138.3" y2="418"/>
<line x1="112.5" y1="658" x2="1138.3" y2="658"/>
<line x1="112.5" y1="883" x2="745.8" y2="883"/>
<line x1="1048.2" y1="883" x2="1138.3" y2="883"/>
<line x1="112.5" y1="1122" x2="754.7" y2="1122"/>
<line x1="475.1" y1="1357" x2="626.8" y2="1357"/>
</g>
<g fill="#000">
<polygon points="482.7,659 471.2,680 494.2,680"/>
<polygon points="817.2,659 805.7,680 828.7,680"/>
<polygon points="1053.6,659 1042.1,680 1065.1,680"/>
<polygon points="476,885 464.5,906 487.5,906"/>
</g>
<g class="lb">
<text x="243" y="209" text-anchor="middle">NLS1(bipartite)</text>
<text x="1030" y="209" text-anchor="middle">CC</text>
<text x="672" y="441" text-anchor="middle">NLS2(monopartite)</text>
<text x="961" y="444" text-anchor="middle">motif Q</text>
<text x="160" y="681" text-anchor="middle">motif I</text>
<text x="691" y="681" text-anchor="middle">DEADc domain</text>
<text x="1068" y="681">NES</text>
<text x="326" y="1149" text-anchor="middle">HELICc domain</text>
<text x="549" y="1382" text-anchor="middle">ZnF_C2HC</text>
</g>
</g>
</svg>
